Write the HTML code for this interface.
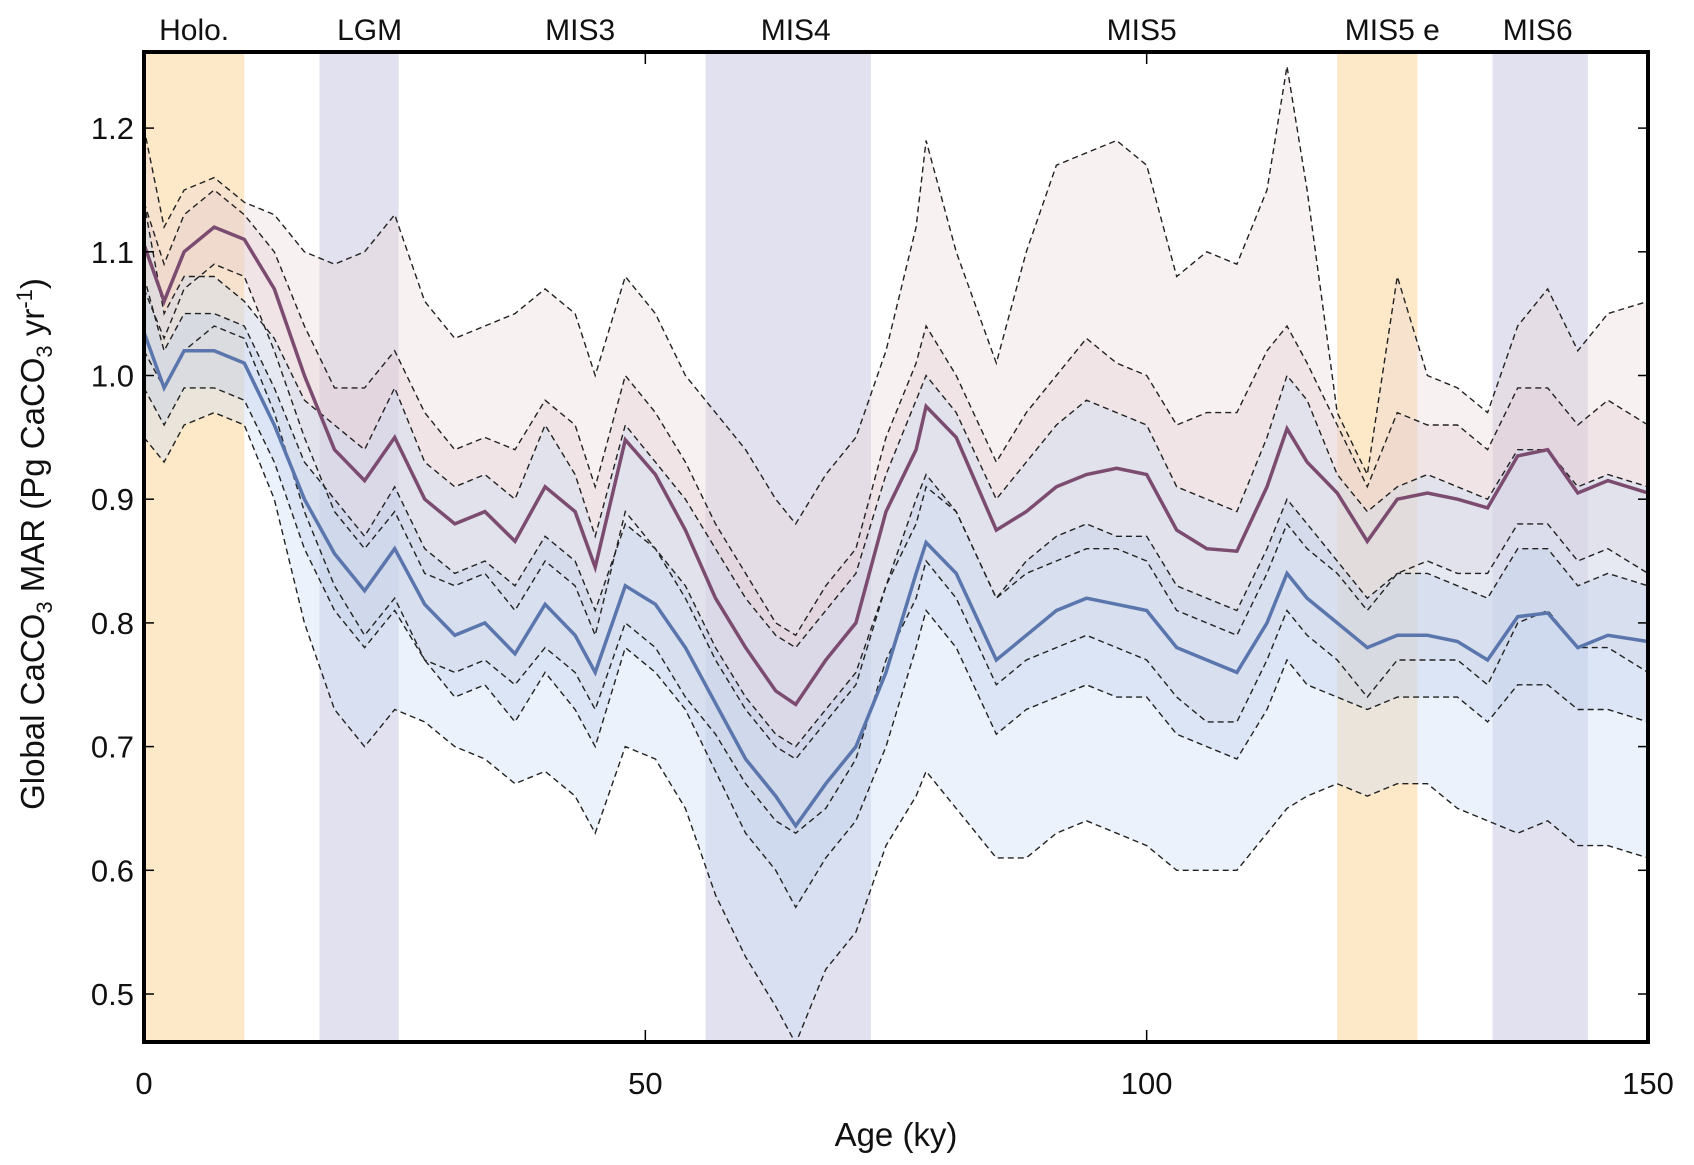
<!DOCTYPE html>
<html><head><meta charset="utf-8"><style>
html,body{margin:0;padding:0;background:#fff;}
svg{display:block;font-family:"Liberation Sans",sans-serif;}
</style></head><body>
<svg id="chart" width="1694" height="1165"></svg>
<script>
const ages=[0,2,4,7,10,13,16,19,22,25,28,31,34,37,40,43,45,48,51,54,57,60,63,65,68,71,74,77,78,81,85,88,91,94,97,100,103,106,109,112,114,116,119,122,125,128,131,134,137,140,143,146,150];
const purpleMean=[1.106,1.06,1.10,1.12,1.11,1.07,1.00,0.94,0.915,0.95,0.90,0.88,0.89,0.866,0.91,0.89,0.845,0.948,0.92,0.875,0.82,0.78,0.745,0.734,0.77,0.80,0.89,0.94,0.975,0.95,0.875,0.89,0.91,0.92,0.925,0.92,0.875,0.86,0.858,0.91,0.957,0.93,0.905,0.866,0.90,0.905,0.90,0.893,0.935,0.94,0.905,0.915,0.905];
const blueMean=[1.035,0.99,1.02,1.02,1.01,0.96,0.90,0.856,0.826,0.86,0.815,0.79,0.80,0.775,0.815,0.79,0.76,0.83,0.815,0.78,0.735,0.69,0.66,0.636,0.67,0.70,0.76,0.84,0.865,0.84,0.77,0.79,0.81,0.82,0.815,0.81,0.78,0.77,0.76,0.80,0.84,0.82,0.80,0.78,0.79,0.79,0.785,0.77,0.805,0.808,0.78,0.79,0.785];
const purpleOuterUpper=[1.2,1.12,1.15,1.16,1.14,1.13,1.10,1.09,1.10,1.13,1.06,1.03,1.04,1.05,1.07,1.05,1.00,1.08,1.05,1.00,0.97,0.94,0.90,0.88,0.92,0.95,1.02,1.12,1.19,1.10,1.01,1.10,1.17,1.18,1.19,1.17,1.08,1.10,1.09,1.15,1.25,1.15,0.97,0.92,1.08,1.00,0.99,0.97,1.04,1.07,1.02,1.05,1.06];
const purpleInnerUpper=[1.14,1.09,1.13,1.15,1.13,1.10,1.04,0.99,0.99,1.02,0.97,0.94,0.95,0.94,0.98,0.96,0.91,1.00,0.97,0.93,0.88,0.84,0.80,0.79,0.83,0.86,0.95,1.01,1.04,1.00,0.93,0.97,1.00,1.03,1.01,1.00,0.96,0.97,0.97,1.02,1.04,1.01,0.96,0.91,0.97,0.96,0.96,0.94,0.99,0.99,0.96,0.98,0.96];
const purpleInnerLower=[1.07,1.03,1.07,1.09,1.08,1.02,0.95,0.89,0.86,0.89,0.84,0.83,0.84,0.81,0.85,0.83,0.79,0.89,0.86,0.82,0.77,0.73,0.70,0.69,0.72,0.75,0.83,0.88,0.91,0.89,0.82,0.84,0.85,0.86,0.86,0.85,0.81,0.80,0.79,0.84,0.88,0.86,0.84,0.81,0.84,0.85,0.84,0.84,0.88,0.88,0.85,0.86,0.84];
const purpleOuterLower=[1.02,0.99,1.02,1.04,1.03,0.97,0.89,0.83,0.79,0.82,0.77,0.76,0.77,0.75,0.78,0.76,0.73,0.80,0.78,0.74,0.71,0.67,0.64,0.63,0.65,0.69,0.77,0.82,0.85,0.82,0.75,0.77,0.78,0.79,0.78,0.77,0.74,0.72,0.72,0.77,0.81,0.79,0.77,0.74,0.77,0.77,0.77,0.75,0.80,0.81,0.78,0.78,0.76];
const blueOuterUpper=[1.14,1.05,1.08,1.08,1.06,1.03,0.98,0.96,0.94,0.99,0.93,0.91,0.92,0.90,0.96,0.92,0.87,0.96,0.93,0.90,0.86,0.82,0.79,0.78,0.81,0.84,0.92,0.98,1.00,0.97,0.90,0.93,0.96,0.98,0.97,0.96,0.91,0.90,0.89,0.95,1.00,0.98,0.92,0.89,0.91,0.92,0.91,0.90,0.94,0.94,0.91,0.92,0.91];
const blueInnerUpper=[1.08,1.02,1.05,1.05,1.04,0.99,0.93,0.90,0.87,0.91,0.86,0.84,0.85,0.83,0.87,0.85,0.81,0.88,0.86,0.83,0.78,0.74,0.71,0.70,0.73,0.76,0.83,0.90,0.92,0.89,0.82,0.85,0.87,0.88,0.87,0.87,0.83,0.82,0.81,0.86,0.90,0.88,0.85,0.82,0.84,0.84,0.83,0.82,0.86,0.86,0.83,0.84,0.83];
const blueInnerLower=[0.99,0.96,0.99,0.99,0.98,0.93,0.86,0.81,0.78,0.81,0.77,0.74,0.75,0.72,0.76,0.73,0.70,0.78,0.76,0.73,0.68,0.63,0.60,0.57,0.61,0.64,0.70,0.78,0.81,0.78,0.71,0.73,0.74,0.75,0.74,0.74,0.71,0.70,0.69,0.73,0.77,0.75,0.74,0.73,0.74,0.74,0.74,0.72,0.75,0.75,0.73,0.73,0.72];
const blueOuterLower=[0.95,0.93,0.96,0.97,0.96,0.90,0.80,0.73,0.70,0.73,0.72,0.70,0.69,0.67,0.68,0.66,0.63,0.70,0.69,0.65,0.58,0.53,0.49,0.46,0.52,0.55,0.62,0.66,0.68,0.65,0.61,0.61,0.63,0.64,0.63,0.62,0.60,0.60,0.60,0.63,0.65,0.66,0.67,0.66,0.67,0.67,0.65,0.64,0.63,0.64,0.62,0.62,0.61];
const bandNames=["Holo.","LGM","MIS3","MIS4","MIS5","MIS5 e","MIS6"];
const bandStart=[0,17.5,null,56,null,119,134.5];
const bandEnd=[10,25.4,null,72.5,null,127,144];
const bandLabelAge=[5,22.5,43.5,65,99.5,124.5,139];
const bandColor=["#fde8c8","#e2e1ef",null,"#e2e1ef",null,"#fde8c8","#e2e1ef"];
const xTicks=[0,50,100,150];
const yTicks=[0.5,0.6,0.7,0.8,0.9,1.0,1.1,1.2];
const yTickLabels=["0.5","0.6","0.7","0.8","0.9","1.0","1.1","1.2"];

const L=144,R=1648,T=52,B=1042;
const X=a=>L+(a-0)/150*(R-L);
const Y=v=>994-(v-0.5)*1237;
const NS="http://www.w3.org/2000/svg";
const svg=document.getElementById('chart');
function mk(tag,attrs,parent){const e=document.createElementNS(NS,tag);for(const k in attrs)e.setAttribute(k,attrs[k]);(parent||svg).appendChild(e);return e;}
const defs=mk('defs',{});
const cp=mk('clipPath',{id:'clip'},defs);mk('rect',{x:L,y:T,width:R-L,height:B-T},cp);
const g=mk('g',{'clip-path':'url(#clip)'});



bandNames.forEach((n,i)=>{
  if(bandStart[i]!==null){
    const r=mk('rect',{x:X(bandStart[i]),y:T,width:X(bandEnd[i])-X(bandStart[i]),height:B-T,fill:bandColor[i]},g);
    
    
  }
  const t=mk('text',{x:X(bandLabelAge[i]),y:40,'text-anchor':'middle','font-size':30,fill:'#111'});
  t.textContent=n;
  
  
});
const pts=arr=>arr.map((v,i)=>X(ages[i]).toFixed(1)+','+Y(v).toFixed(1));
function area(up,lo,fill,name){
  const d='M'+pts(up).join('L')+'L'+pts(lo).reverse().join('L')+'Z';
  const p=mk('path',{d:d,fill:fill,stroke:'none'},g);
  
  
}
area(purpleOuterUpper,purpleOuterLower,'rgba(235,215,215,0.35)','purple-outer-band');
area(purpleInnerUpper,purpleInnerLower,'rgba(225,200,210,0.3)','purple-inner-band');
area(blueOuterUpper,blueOuterLower,'rgba(205,222,245,0.4)','blue-outer-band');
area(blueInnerUpper,blueInnerLower,'rgba(190,205,235,0.35)','blue-inner-band');
function line(arr,attrs,name){
  const p=mk('path',Object.assign({d:'M'+pts(arr).join('L'),fill:'none'},attrs),g);
  
  
}
const dash={stroke:'#222','stroke-width':1.4,'stroke-dasharray':'6,4'};
line(purpleOuterUpper,dash,'purple-outer-upper-line');
line(purpleInnerUpper,dash,'purple-inner-upper-line');
line(purpleInnerLower,dash,'purple-inner-lower-line');
line(purpleOuterLower,dash,'purple-outer-lower-line');
line(blueOuterUpper,dash,'blue-outer-upper-line');
line(blueInnerUpper,dash,'blue-inner-upper-line');
line(blueInnerLower,dash,'blue-inner-lower-line');
line(blueOuterLower,dash,'blue-outer-lower-line');
line(purpleMean,{stroke:'#7b4b70','stroke-width':3.5},'purple-mean-line');
line(blueMean,{stroke:'#5a76ad','stroke-width':3.5},'blue-mean-line');

// frame
const f=mk('rect',{x:L,y:T,width:R-L,height:B-T,fill:'none',stroke:'#000','stroke-width':4});


xTicks.forEach(a=>{
  mk('line',{x1:X(a),x2:X(a),y1:B,y2:B-12,stroke:'#000','stroke-width':1.5});
  mk('line',{x1:X(a),x2:X(a),y1:T,y2:T+12,stroke:'#000','stroke-width':1.5});
  const t=mk('text',{x:X(a),y:1094,'text-anchor':'middle','font-size':31,fill:'#111'});
  t.textContent=String(a);
  
  
});
yTicks.forEach((v,i)=>{
  mk('line',{x1:L,x2:L+10,y1:Y(v),y2:Y(v),stroke:'#000','stroke-width':1.5});
  mk('line',{x1:R,x2:R-10,y1:Y(v),y2:Y(v),stroke:'#000','stroke-width':1.5});
  const t=mk('text',{x:L-10,y:Y(v)+11,'text-anchor':'end','font-size':31,fill:'#111'});
  t.textContent=yTickLabels[i];
  
  
});
const xt=mk('text',{x:(L+R)/2,y:1146,'text-anchor':'middle','font-size':33,fill:'#111'});
xt.textContent='Age (ky)';


const yt=mk('text',{x:0,y:0,'text-anchor':'middle','font-size':33,fill:'#111',transform:'translate(44,544) rotate(-90)'});
yt.innerHTML='Global CaCO<tspan font-size="22" dy="8">3</tspan><tspan dy="-8"> MAR (Pg CaCO</tspan><tspan font-size="22" dy="8">3</tspan><tspan dy="-8"> yr</tspan><tspan font-size="22" dy="-12">-1</tspan><tspan dy="12">)</tspan>';


</script>
</body></html>
